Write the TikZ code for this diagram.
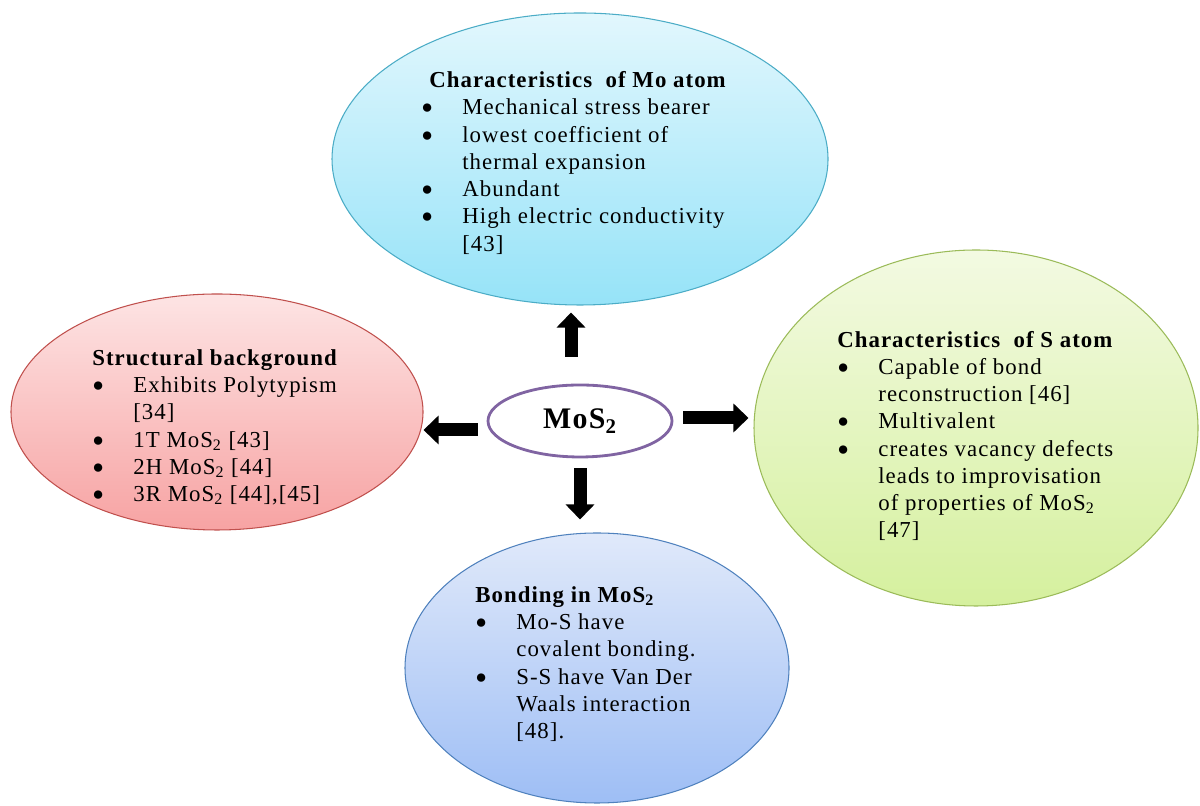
\documentclass[tikz,border=0pt]{standalone}
\usepackage{fontspec}
\setmainfont{Liberation Serif}[LetterSpace=4.5]
\usetikzlibrary{shapes.geometric,arrows.meta}
\newcommand{\bul}{\raisebox{0.6pt}{\fontsize{11}{11}\selectfont ●}}

\begin{document}
\begin{tikzpicture}
    \definecolor{moline}{RGB}{75,172,198}
    \definecolor{motop}{RGB}{226,247,253}
    \definecolor{mobottom}{RGB}{150,227,248}
    \definecolor{structline}{RGB}{192,80,77}
    \definecolor{structtop}{RGB}{253,228,228}
    \definecolor{structbottom}{RGB}{247,163,163}
    \definecolor{sline}{RGB}{155,187,89}
    \definecolor{stop}{RGB}{243,250,226}
    \definecolor{sbottom}{RGB}{213,240,158}
    \definecolor{bondline}{RGB}{79,129,189}
    \definecolor{bondtop}{RGB}{224,233,250}
    \definecolor{bondbottom}{RGB}{158,190,245}
    \definecolor{centerline}{RGB}{128,100,162}

    \tikzset{
        bubble/.style={ellipse, line width=0.6pt},
        infotext/.style={anchor=west, inner sep=0pt, font=\fontsize{13}{15.5}\selectfont},
        blockarrow/.style={line width=0.26cm, -{Triangle[width=0.56cm,length=0.3cm]}}
    }

    \useasboundingbox (0,0) rectangle (24,16.12);

    \node[bubble, draw=moline, top color=motop, bottom color=mobottom,
          minimum width=9.92cm, minimum height=5.84cm] (mo) at (11.6,12.94) {};
    \node[bubble, draw=structline, top color=structtop, bottom color=structbottom,
          minimum width=8.24cm, minimum height=4.72cm] (struct) at (4.34,7.88) {};
    \node[bubble, draw=sline, top color=stop, bottom color=sbottom,
          minimum width=8.88cm, minimum height=7.12cm] (satom) at (19.52,7.56) {};
    \node[bubble, draw=bondline, top color=bondtop, bottom color=bondbottom,
          minimum width=7.68cm, minimum height=5.4cm] (bonding) at (11.94,2.76) {};

    \node[ellipse, draw=centerline, line width=1.6pt, fill=white,
          minimum width=3.68cm, minimum height=1.44cm,
          font=\fontsize{17}{20}\selectfont\bfseries] (mos2) at (11.6,7.7) {MoS\textsubscript{2}};

    \node[infotext] (motext) at (8.42,12.84) {%
        \begin{tabular}{@{}p{0.82cm}@{}l@{}}
        \multicolumn{2}{@{\hspace{0.16cm}}l@{}}{\textbf{Characteristics~~of Mo atom}}\\
        \bul & Mechanical stress bearer\\
        \bul & lowest coefficient of\\
             & thermal expansion\\
        \bul & Abundant\\
        \bul & High electric conductivity\\
             & [43]
        \end{tabular}};

    \node[infotext] (structtext) at (1.84,7.56) {%
        \begin{tabular}{@{}p{0.82cm}@{}l@{}}
        \multicolumn{2}{@{}l@{}}{\textbf{Structural background}}\\
        \bul & Exhibits Polytypism\\
             & [34]\\
        \bul & 1T MoS\textsubscript{2} [43]\\
        \bul & 2H MoS\textsubscript{2} [44]\\
        \bul & 3R MoS\textsubscript{2} [44],[45]
        \end{tabular}};

    \node[infotext] (satomtext) at (16.74,7.38) {%
        \begin{tabular}{@{}p{0.82cm}@{}l@{}}
        \multicolumn{2}{@{}l@{}}{\textbf{Characteristics~~of S atom}}\\
        \bul & Capable of bond\\
             & reconstruction [46]\\
        \bul & Multivalent\\
        \bul & creates vacancy defects\\
             & leads to improvisation\\
             & of properties of MoS\textsubscript{2}\\
             & [47]
        \end{tabular}};

    \node[infotext] (bondingtext) at (9.5,2.82) {%
        \begin{tabular}{@{}p{0.82cm}@{}l@{}}
        \multicolumn{2}{@{}l@{}}{\textbf{Bonding in MoS\textsubscript{2}}}\\
        \bul & Mo-S have\\
             & covalent bonding.\\
        \bul & S-S have Van Der\\
             & Waals interaction\\
             & [48].
        \end{tabular}};

    \draw[blockarrow, shorten <=0.54cm, shorten >=0.14cm]
        ([xshift=-0.18cm]mos2.north) -- ([xshift=-0.18cm]mo.south);
    \draw[blockarrow, shorten <=0.2cm, shorten >=0.26cm]
        (mos2.south) -- (mos2.south |- bonding.north);
    \draw[blockarrow, shorten <=0.18cm]
        ([yshift=-0.18cm]mos2.west) -- ([yshift=-0.18cm]mos2.west -| struct.east);
    \draw[blockarrow, shorten <=0.2cm, shorten >=0.1cm]
        ([yshift=0.06cm]mos2.east) -- ([yshift=0.06cm]mos2.east -| satom.west);
\end{tikzpicture}
\end{document}
